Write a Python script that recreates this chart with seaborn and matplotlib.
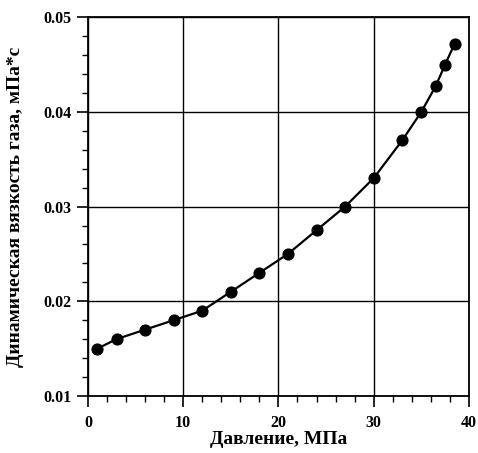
import matplotlib
matplotlib.use("Agg")
import matplotlib.pyplot as plt
from matplotlib.ticker import MultipleLocator, FormatStrFormatter
import seaborn as sns
import pandas as pd

# Gas dynamic viscosity vs. pressure
pressure = [1, 3, 6, 9, 12, 15, 18, 21, 24, 27, 30, 33, 35, 36.5, 37.5, 38.5]
viscosity = [0.015, 0.016, 0.017, 0.018, 0.019, 0.021, 0.023, 0.025, 0.0275,
             0.030, 0.033, 0.037, 0.040, 0.0427, 0.045, 0.0472]
x_ticks = [0, 10, 20, 30, 40]
y_ticks = [0.01, 0.02, 0.03, 0.04, 0.05]

df = pd.DataFrame({"p": pressure, "mu": viscosity})

sns.set_theme(style="white")
plt.rcParams["font.family"] = ["Liberation Serif", "DejaVu Serif"]
plt.rcParams["font.weight"] = "bold"
plt.rcParams["text.color"] = "black"
plt.rcParams["axes.labelcolor"] = "black"
plt.rcParams["xtick.color"] = "black"
plt.rcParams["ytick.color"] = "black"

fig = plt.figure(figsize=(4.78, 4.53), dpi=100)
ax = fig.add_axes([0.184, 0.126, 0.797, 0.836])

sns.lineplot(data=df, x="p", y="mu", ax=ax, color="black", linewidth=1.6,
             marker="o", markersize=8, markeredgecolor="black",
             markerfacecolor="black")

ax.set_xlim(0, 40)
ax.set_ylim(0.01, 0.05)
ax.set_xticks(x_ticks)
ax.set_yticks(y_ticks)
ax.xaxis.set_minor_locator(MultipleLocator(2))
ax.yaxis.set_minor_locator(MultipleLocator(0.002))
ax.yaxis.set_major_formatter(FormatStrFormatter("%.2f"))

ax.grid(True, which="major", color="black", linewidth=1.0)
for s in ax.spines.values():
    s.set_color("black")
    s.set_linewidth(1.3)

ax.tick_params(which="major", direction="out", length=8, width=1.2,
               colors="black", labelsize=11.5, labelcolor="black")
ax.tick_params(axis="x", which="major", pad=6)
ax.tick_params(axis="y", which="major", pad=4)
ax.tick_params(which="minor", direction="out", length=4, width=1.0,
               colors="black")
ax.tick_params(axis="both", which="both", bottom=True, left=True)
for lab in ax.get_xticklabels() + ax.get_yticklabels():
    lab.set_fontweight("bold")

ax.set_xlabel("Давление, МПа", fontsize=14, fontweight="bold", labelpad=0,
              color="black")
ax.set_ylabel("Динамическая вязкость газа, мПа*с", fontsize=14,
              fontweight="bold", labelpad=14, color="black")

fig.savefig("out.png", dpi=100)
